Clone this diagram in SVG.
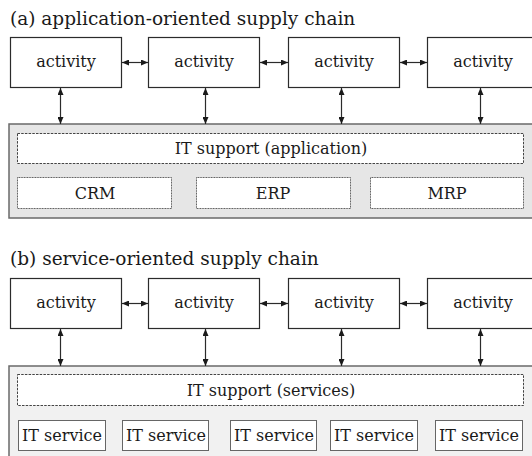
<svg xmlns="http://www.w3.org/2000/svg" width="532" height="456" viewBox="0 0 532 456">
<style>
text{fill:#1a1a1a}
.title{font-size:18.5px}
.lbl{font-size:16px;text-anchor:middle}
.act{fill:#fff;stroke:#2b2b2b;stroke-width:1.2}
.contA{fill:#e6e6e6;stroke:#6a6a6a;stroke-width:1.5}
.contB{fill:#f1f1f1;stroke:#6a6a6a;stroke-width:1.5}
.dash{fill:#fff;stroke:#444;stroke-width:1;stroke-dasharray:2.5 1.2}
.dot{fill:#fff;stroke:#555;stroke-width:1;stroke-dasharray:1 0.6}
.svc{fill:#fff;stroke:#666;stroke-width:1}
.arr{stroke:#2b2b2b;stroke-width:1.2;fill:none;marker-start:url(#ah);marker-end:url(#ah)}
</style>
<defs>
<marker id="ah" viewBox="0 0 7 6" refX="7" refY="3" markerWidth="7" markerHeight="6" markerUnits="userSpaceOnUse" orient="auto-start-reverse">
<path d="M0,0 L7,3 L0,6 z" fill="#1a1a1a"/>
</marker>
</defs>

<text id="title-a" class="title" x="10" y="25" font-family="DejaVu Serif, serif">(a) application-oriented supply chain</text>

<g id="a-it">
<rect class="contA" x="9" y="124" width="540" height="94"/>
</g>
<g id="a-support">
<rect class="dash" x="17.5" y="133.5" width="506" height="30"/>
<text class="lbl" x="271" y="154" font-family="DejaVu Serif, serif">IT support (application)</text>
</g>
<g id="a-crm">
<rect class="dot" x="17.5" y="177.5" width="154" height="31"/>
<text class="lbl" x="95" y="199" font-family="DejaVu Serif, serif">CRM</text>
</g>
<g id="a-erp">
<rect class="dot" x="196.5" y="177.5" width="154" height="31"/>
<text class="lbl" x="273" y="199" font-family="DejaVu Serif, serif">ERP</text>
</g>
<g id="a-mrp">
<rect class="dot" x="370.5" y="177.5" width="153" height="31"/>
<text class="lbl" x="447" y="199" font-family="DejaVu Serif, serif">MRP</text>
</g>

<g id="a-act1"><rect class="act" x="10.5" y="37.5" width="111" height="50"/><text class="lbl" x="66" y="67" font-family="DejaVu Serif, serif">activity</text></g>
<g id="a-act2"><rect class="act" x="148.5" y="37.5" width="111" height="50"/><text class="lbl" x="204" y="67" font-family="DejaVu Serif, serif">activity</text></g>
<g id="a-act3"><rect class="act" x="288.5" y="37.5" width="111" height="50"/><text class="lbl" x="344" y="67" font-family="DejaVu Serif, serif">activity</text></g>
<g id="a-act4"><rect class="act" x="427.5" y="37.5" width="111" height="50"/><text class="lbl" x="483" y="67" font-family="DejaVu Serif, serif">activity</text></g>

<text id="title-b" class="title" x="10" y="265" font-family="DejaVu Serif, serif">(b) service-oriented supply chain</text>

<g id="b-it">
<rect class="contB" x="9" y="366" width="540" height="100"/>
</g>
<g id="b-support">
<rect class="dash" x="17.5" y="374.5" width="506" height="31"/>
<text class="lbl" x="271" y="396" font-family="DejaVu Serif, serif">IT support (services)</text>
</g>
<g id="b-svc1"><rect class="svc" x="18.5" y="420.5" width="87" height="30"/><text class="lbl" x="62" y="441" font-family="DejaVu Serif, serif">IT service</text></g>
<g id="b-svc2"><rect class="svc" x="122.5" y="420.5" width="86" height="30"/><text class="lbl" x="166" y="441" font-family="DejaVu Serif, serif">IT service</text></g>
<g id="b-svc3"><rect class="svc" x="230.5" y="420.5" width="86" height="30"/><text class="lbl" x="274" y="441" font-family="DejaVu Serif, serif">IT service</text></g>
<g id="b-svc4"><rect class="svc" x="330.5" y="420.5" width="87" height="30"/><text class="lbl" x="374" y="441" font-family="DejaVu Serif, serif">IT service</text></g>
<g id="b-svc5"><rect class="svc" x="435.5" y="420.5" width="87" height="30"/><text class="lbl" x="479" y="441" font-family="DejaVu Serif, serif">IT service</text></g>

<g id="b-act1"><rect class="act" x="10.5" y="278.5" width="111" height="50"/><text class="lbl" x="66" y="308" font-family="DejaVu Serif, serif">activity</text></g>
<g id="b-act2"><rect class="act" x="148.5" y="278.5" width="111" height="50"/><text class="lbl" x="204" y="308" font-family="DejaVu Serif, serif">activity</text></g>
<g id="b-act3"><rect class="act" x="288.5" y="278.5" width="111" height="50"/><text class="lbl" x="344" y="308" font-family="DejaVu Serif, serif">activity</text></g>
<g id="b-act4"><rect class="act" x="427.5" y="278.5" width="111" height="50"/><text class="lbl" x="483" y="308" font-family="DejaVu Serif, serif">activity</text></g>

<g id="connectors">
<line class="arr" x1="122" y1="62.5" x2="148" y2="62.5"/>
<line class="arr" x1="260" y1="62.5" x2="288" y2="62.5"/>
<line class="arr" x1="400" y1="62.5" x2="427" y2="62.5"/>
<line class="arr" x1="60.5" y1="88" x2="60.5" y2="124"/>
<line class="arr" x1="205.5" y1="88" x2="205.5" y2="124"/>
<line class="arr" x1="341.5" y1="88" x2="341.5" y2="124"/>
<line class="arr" x1="480.5" y1="88" x2="480.5" y2="124"/>
<line class="arr" x1="122" y1="303.5" x2="148" y2="303.5"/>
<line class="arr" x1="260" y1="303.5" x2="288" y2="303.5"/>
<line class="arr" x1="400" y1="303.5" x2="427" y2="303.5"/>
<line class="arr" x1="60.5" y1="329" x2="60.5" y2="366"/>
<line class="arr" x1="205.5" y1="329" x2="205.5" y2="366"/>
<line class="arr" x1="341.5" y1="329" x2="341.5" y2="366"/>
<line class="arr" x1="480.5" y1="329" x2="480.5" y2="366"/>
</g>
</svg>
